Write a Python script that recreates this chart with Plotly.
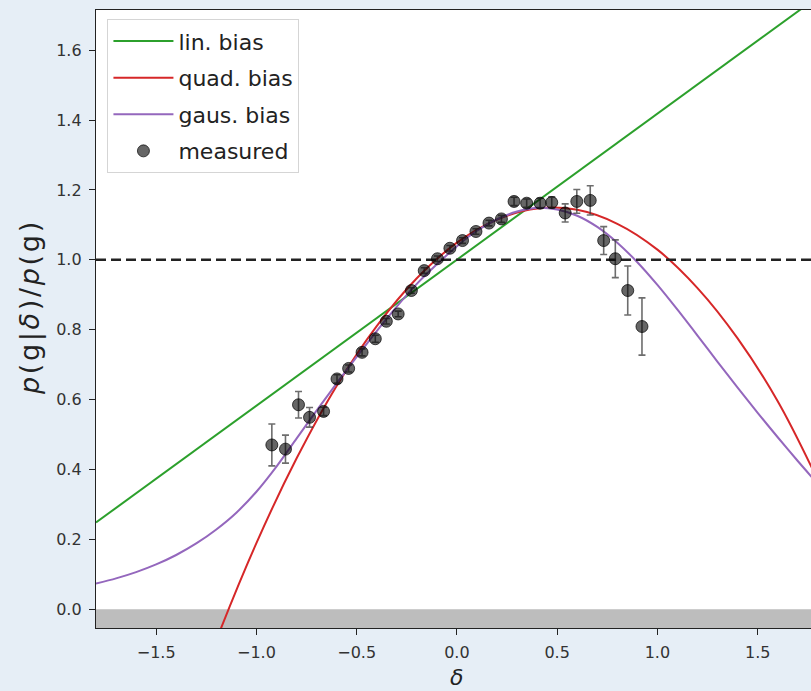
import plotly.graph_objects as go

# Measured conditional galaxy density ratio p(g|delta)/p(g)
delta_meas = [-0.923, -0.855, -0.790, -0.735, -0.665, -0.598, -0.540, -0.473, -0.407, -0.352,
              -0.293, -0.227, -0.163, -0.097, -0.035, 0.028, 0.095, 0.160, 0.222, 0.285,
              0.348, 0.415, 0.473, 0.540, 0.598, 0.665, 0.732, 0.790, 0.852, 0.923]
ratio_meas = [0.470, 0.458, 0.585, 0.549, 0.566, 0.659, 0.689, 0.735, 0.774, 0.824,
              0.845, 0.912, 0.969, 1.003, 1.033, 1.055, 1.081, 1.105, 1.117, 1.167,
              1.162, 1.162, 1.164, 1.134, 1.167, 1.170, 1.055, 1.003, 0.912, 0.809]
ratio_err = [0.060, 0.040, 0.038, 0.028, 0.012, 0.012, 0.010, 0.010, 0.010, 0.008,
             0.008, 0.008, 0.008, 0.008, 0.008, 0.008, 0.008, 0.008, 0.010, 0.012,
             0.012, 0.014, 0.016, 0.026, 0.034, 0.042, 0.040, 0.054, 0.070, 0.082]

# Bias model curves
lin_delta = [-1.80, 1.77]
lin_ratio = [0.248, 1.740]

quad_delta = [-1.40, -1.20, -1.00, -0.80, -0.60, -0.40, -0.20, 0.00, 0.20, 0.40,
              0.60, 0.80, 1.00, 1.20, 1.40, 1.60, 1.77]
quad_ratio = [-0.401, -0.089, 0.189, 0.431, 0.639, 0.810, 0.947, 1.049, 1.115, 1.147,
              1.143, 1.103, 1.029, 0.919, 0.775, 0.595, 0.405]

gaus_delta = [-1.8, -1.7, -1.6, -1.5, -1.4, -1.3, -1.2, -1.1, -1.0, -0.9,
              -0.8, -0.7, -0.6, -0.5, -0.4, -0.3, -0.2, -0.1, 0.0, 0.1,
              0.2, 0.3, 0.4, 0.5, 0.6, 0.7, 0.8, 0.9, 1.0, 1.1,
              1.2, 1.3, 1.4, 1.5, 1.6, 1.7, 1.77]
gaus_ratio = [0.073, 0.088, 0.106, 0.128, 0.155, 0.188, 0.228, 0.276, 0.336, 0.408,
              0.488, 0.568, 0.646, 0.722, 0.796, 0.866, 0.931, 0.987, 1.039, 1.083,
              1.116, 1.138, 1.149, 1.144, 1.126, 1.094, 1.049, 0.993, 0.928, 0.857,
              0.783, 0.708, 0.634, 0.562, 0.492, 0.424, 0.378]

x_ticks = [-1.5, -1.0, -0.5, 0.0, 0.5, 1.0, 1.5]
y_ticks = [0.0, 0.2, 0.4, 0.6, 0.8, 1.0, 1.2, 1.4, 1.6]
x_range = [-1.80, 1.766]
y_range = [-0.054, 1.715]

FONT = "DejaVu Sans"
HS = "\u200a"  # hair space for mathtext-like glyph spacing

fig = go.Figure()

fig.add_trace(go.Scatter(x=lin_delta, y=lin_ratio, mode="lines", name="lin. bias",
                         legendgroup="lin",
                         line=dict(color="#2ca02c", width=2)))
fig.add_trace(go.Scatter(x=quad_delta, y=quad_ratio, mode="lines", name="quad. bias",
                         legendgroup="quad",
                         line=dict(color="#d62728", width=2, shape="spline", smoothing=1.0)))
fig.add_trace(go.Scatter(x=gaus_delta, y=gaus_ratio, mode="lines", name="gaus. bias",
                         legendgroup="gaus",
                         line=dict(color="#9467bd", width=2, shape="spline", smoothing=0.8)))

# Unit reference line
fig.add_trace(go.Scatter(x=x_range, y=[1.0, 1.0], mode="lines", showlegend=False,
                         line=dict(color="#222222", width=2.5, dash="10px,5px"),
                         hoverinfo="skip"))

fig.add_trace(go.Scatter(
    x=delta_meas, y=ratio_meas, mode="markers", name="measured", legendgroup="meas",
    marker=dict(size=12, color="rgba(0,0,0,0.6)",
                line=dict(color="rgba(0,0,0,0.7)", width=1)),
    error_y=dict(type="data", array=ratio_err, visible=True,
                 color="rgba(60,60,60,0.75)", thickness=1.6, width=3.5),
))

# Shaded unphysical region below zero
fig.add_shape(type="rect", xref="paper", yref="y", x0=0, x1=1, y0=-1, y1=0,
              fillcolor="#bdbdbd", line=dict(width=0), layer="below")

axis_common = dict(showgrid=False, zeroline=False, showline=True, linecolor="#222222",
                   linewidth=1.3, ticks="outside", ticklen=6, tickwidth=1.1,
                   tickcolor="#222222", tickfont=dict(family=FONT, size=16, color="#333333"),
                   tickformat=".1f", ticklabelstandoff=4)

fig.update_xaxes(range=x_range, tickvals=x_ticks, mirror=True, **axis_common)
fig.update_yaxes(range=y_range, tickvals=y_ticks, mirror=False, **axis_common)

ylabel = HS.join(["<i>p</i>", "(", "g", "|", "<i>δ</i>", ")", "/", "<i>p</i>", "(", "g", ")"])
fig.add_annotation(xref="paper", yref="paper", x=-0.0923, y=0.516, showarrow=False,
                   xanchor="center", yanchor="middle", textangle=-90, text=ylabel,
                   font=dict(family=FONT, size=27, color="#222222"))
fig.add_annotation(xref="paper", yref="paper", x=0.5035, y=-0.080, showarrow=False,
                   xanchor="center", yanchor="middle",
                   text="<i>δ</i>", font=dict(family=FONT, size=22, color="#222222"))

fig.update_layout(
    width=811, height=691,
    margin=dict(l=96, r=0, t=10, b=63),
    paper_bgcolor="#e6eef6",
    plot_bgcolor="white",
    showlegend=True,
    legend=dict(x=0.016, y=0.985, xanchor="left", yanchor="top",
                bgcolor="rgba(255,255,255,0.85)", bordercolor="#d5d5d5", borderwidth=1,
                font=dict(family=FONT, size=22, color="#222222"),
                itemwidth=60, tracegroupgap=5),
)

fig.write_html("out.html")
